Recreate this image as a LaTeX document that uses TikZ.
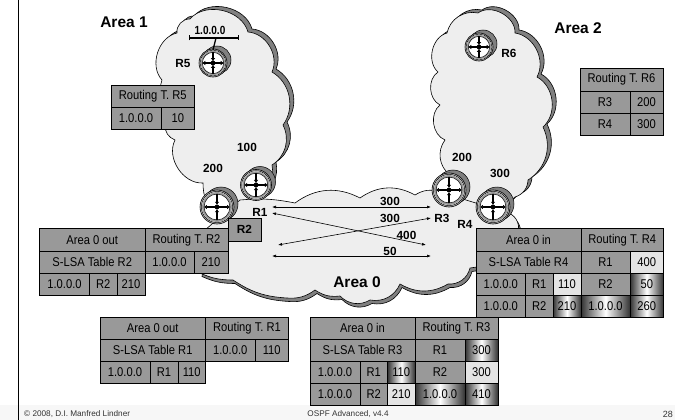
\documentclass[tikz,border=0pt]{standalone}
\usepackage{fontspec}
\setmainfont{Liberation Sans}
\newfontfamily\tblfont[FakeStretch=0.88]{Liberation Sans}
\usetikzlibrary{arrows.meta,shadings}
\definecolor{cellgray}{HTML}{999999}
\definecolor{cloudfill}{HTML}{EEEEEE}
\definecolor{cloudshade}{HTML}{808080}
\definecolor{cellpale}{HTML}{E4E4E4}
\tikzset{
  cellbox/.style={draw=black,line width=0.9pt,fill=cellgray},
  pale/.style={fill=cellpale},
  glow/.style={left color=black!80,right color=black!80,middle color=white},
  celltxt/.style={font=\tblfont\fontsize{12.7}{14}\selectfont,inner sep=0pt,text=black},
  lbl/.style={font=\bfseries\fontsize{11.8}{13}\selectfont,inner sep=0pt},
  arealbl/.style={font=\bfseries\fontsize{15.5}{17}\selectfont,inner sep=0pt},
  foot/.style={font=\fontsize{8.2}{10}\selectfont,inner sep=0pt,text=black!80},
  link/.style={line width=0.6pt,{Latex[length=4pt,width=3pt]}-{Latex[length=4pt,width=3pt]}},
  cloudline/.style={draw=black,line width=0.6pt},
  spoke/.style={line width=1.6pt,-{Latex[length=3.2pt,width=4.6pt]}},
}
\newcommand{\tcell}[7][]{%
  \path[cellbox,#1] (#3,#4) rectangle (#5,#6);
  \node[celltxt,name=#2] at ({(#3+#5)/2},{(#4+#6)/2}) {#7};}
\newcommand{\routersym}[4]{%
  \begin{scope}[shift={(#2,#3)}]
    \path[fill=cloudshade,draw=black,line width=0.5pt] (4,-3) circle (#4);
    \path[fill=black!25,draw=black,line width=0.6pt] (0,0) circle (#4);
    \node[circle,draw=black,fill=white,line width=0.5pt,inner sep=0pt,minimum size={2*#4*0.92pt},name=#1] at (0,0) {};
    \path[fill=cellgray] (0,0) circle ({#4*0.88});
    \path[fill=white,draw=black,line width=0.5pt] (0,0) circle ({#4*0.76});
    \draw[spoke] (0,0) -- ({#4*0.78},0);
    \draw[spoke] (0,0) -- ({-#4*0.78},0);
    \draw[spoke] (0,{#4*0.78}) -- (0,{#4*0.12});
    \draw[spoke] (0,{-#4*0.78}) -- (0,{-#4*0.12});
    \fill[black] (0,0) circle (2.4);
  \end{scope}}
\def\cloudA{(177,33) to[bend left=50] (190,19) to[bend left=62] (248,32) to[bend left=55] (272,72)
  to[bend left=48] (283,125) to[bend left=42] (272,165) to[bend left=35] (256,200) to (215,215)
  to[bend left=20] (203,183) to[bend left=60] (175,140) to[bend left=35] (165,125)
  to[bend left=20] (162,80) to[bend left=60] cycle}
\def\cloudB{(447,33) to[bend left=45] (478,13) to[bend left=65] (515,33) to[bend left=55] (537,77)
  to[bend left=55] (543,127) to[bend left=42] (528,180) to[bend left=35] (515,197) to (490,220)
  to (450,205) to[bend left=45] (450,175) to[bend left=45] (445,140) to[bend left=60] (440,105)
  to[bend left=60] (438,72) to[bend left=62] cycle}
\def\cloudC{(240,200) to[bend left=8] (295,203) to[bend left=32] (360,198) to[bend left=32] (415,195)
  to[bend left=25] (440,192) to (505,212) to[bend left=50] (518,232) to (512,262) to (470,268)
  to[bend left=40] (448,284) to[bend left=30] (400,284) to[bend left=38] (370,300) to[bend left=38] (340,296)
  to[bend left=20] (315,290) to[bend left=20] (287,298) to[bend left=15] (233,280) to[bend left=12] (200,273) to (205,230) to cycle}
\begin{document}
\begin{tikzpicture}[x=1pt,y=-1pt]
\useasboundingbox (0,0) rectangle (675,420);
\fill[white] (0,0) rectangle (675,420);
\fill[black!3] (0,405) rectangle (675,420);
\draw[line width=1.3pt] (18.5,0) -- (18.5,420);
% clouds
\path[fill=cloudshade,cloudline,shift={(4,-3)}] \cloudA;
\path[fill=cloudfill,cloudline] \cloudA;
\path[fill=cloudshade,cloudline,shift={(4,-3)}] \cloudB;
\path[fill=cloudfill,cloudline] \cloudB;
\path[fill=cloudshade,cloudline,shift={(2,3.5)}] \cloudC;
\path[fill=cloudfill,cloudline] \cloudC;
% routers
\routersym{rfive}{213}{63}{14}
\routersym{rsix}{479}{47}{14}
\routersym{rone}{256}{185}{15.5}
\routersym{rtwo}{217}{207}{17}
\routersym{rthree}{449}{190}{17}
\routersym{rfour}{493}{207}{17}
% network
\coordinate (busl) at (188.5,38);
\coordinate (busr) at (239,38);
\coordinate (busm) at (216,38);
\draw[line width=1.1pt,{Bar[width=5pt,length=1pt]}-{Bar[width=5pt,length=1pt]}] (busl) -- (busr);
\draw[line width=1.3pt] (busm) -- (rfive.north);
\node[lbl,name=netlbl] at (210,30.5) {\scalebox{0.85}[1]{1.0.0.0}};
% arrows
\coordinate (aa) at (272,207); \coordinate (ab) at (431,207);
\coordinate (ba) at (272,213); \coordinate (bb) at (426,245);
\coordinate (ca) at (278,245); \coordinate (cb) at (431,218);
\coordinate (da) at (272,256); \coordinate (db) at (431,256);
\draw[link] (aa) -- (ab);
\draw[link] (ba) -- (bb);
\draw[link] (ca) -- (cb);
\draw[link] (da) -- (db);
% labels
\node[arealbl,name=aone] at (124,22) {Area 1};
\node[arealbl,name=atwo] at (578,28) {Area 2};
\node[arealbl,name=azero] at (357,282) {Area 0};
\node[lbl,name=lfive] at (183,63) {R5};
\node[lbl,name=lsix] at (509,53) {R6};
\node[lbl,name=lone] at (260,212) {R1};
\node[lbl,name=lthree] at (442,218.5) {R3};
\node[lbl,name=lfour] at (465,224) {R4};
\node[lbl,name=ca1] at (247,147) {100};
\node[lbl,name=ca2] at (213,168.5) {200};
\node[lbl,name=cb1] at (462,157.5) {200};
\node[lbl,name=cb2] at (500,173.5) {300};
\node[lbl,name=cc1] at (390,201.5) {300};
\node[lbl,name=cc2] at (390,218.5) {300};
\node[lbl,name=cc3] at (406.5,235) {400};
\node[lbl,name=cc4] at (390,251.5) {50};
% R2 box
\path[cellbox] (228,218) rectangle (261,241);
\node[lbl,name=rtwobox] at (244.5,229.5) {R2};
% table R5
\tcell{t5a}{111}{85}{194.5}{107}{Routing T. R5}
\tcell{t5b}{111}{107}{161}{129}{1.0.0.0}
\tcell{t5c}{161}{107}{194.5}{129}{10}
% table R6
\tcell{t6a}{580}{68}{663}{91}{Routing T. R6}
\tcell{t6b}{580}{91}{630}{113}{R3}
\tcell{t6c}{630}{91}{663}{113}{200}
\tcell{t6d}{580}{113}{630}{135}{R4}
\tcell{t6e}{630}{113}{663}{135}{300}
% table R2
\tcell{t2a}{39.5}{228.5}{145}{251}{Area 0 out}
\tcell{t2b}{145}{228.5}{228}{251}{Routing T. R2}
\tcell{t2c}{39.5}{251}{145}{273}{S-LSA Table R2}
\tcell{t2d}{145}{251}{194}{273}{1.0.0.0}
\tcell{t2e}{194}{251}{228}{273}{210}
\tcell{t2f}{39.5}{273}{89.5}{295}{1.0.0.0}
\tcell{t2g}{89.5}{273}{117}{295}{R2}
\tcell{t2h}{117}{273}{145}{295}{210}
% table R1
\tcell{t1a}{100}{317}{205.5}{339}{Area 0 out}
\tcell{t1b}{205.5}{317}{288.5}{339}{Routing T. R1}
\tcell{t1c}{100}{339}{205.5}{361}{S-LSA Table R1}
\tcell{t1d}{205.5}{339}{255}{361}{1.0.0.0}
\tcell{t1e}{255}{339}{288.5}{361}{110}
\tcell{t1f}{100}{361}{150}{383}{1.0.0.0}
\tcell{t1g}{150}{361}{178}{383}{R1}
\tcell{t1h}{178}{361}{205.5}{383}{110}
% table R3
\tcell{t3a}{310}{317}{415}{339}{Area 0 in}
\tcell{t3b}{415}{317}{498}{339}{Routing T. R3}
\tcell{t3c}{310}{339}{415}{361}{S-LSA Table R3}
\tcell{t3d}{415}{339}{465}{361}{R1}
\tcell[glow]{t3e}{465}{339}{498}{361}{300}
\tcell{t3f}{310}{361}{360}{383}{1.0.0.0}
\tcell{t3g}{360}{361}{387.5}{383}{R1}
\tcell[glow]{t3h}{387.5}{361}{415}{383}{110}
\tcell{t3i}{415}{361}{465}{383}{R2}
\tcell[pale]{t3j}{465}{361}{498}{383}{300}
\tcell{t3k}{310}{383}{360}{405}{1.0.0.0}
\tcell{t3l}{360}{383}{387.5}{405}{R2}
\tcell[pale]{t3m}{387.5}{383}{415}{405}{210}
\tcell[glow]{t3n}{415}{383}{465}{405}{1.0.0.0}
\tcell[glow]{t3o}{465}{383}{498}{405}{410}
% table R4
\tcell{t4a}{476}{228.5}{581}{251}{Area 0 in}
\tcell{t4b}{581}{228.5}{663.5}{251}{Routing T. R4}
\tcell{t4c}{476}{251}{581}{273}{S-LSA Table R4}
\tcell{t4d}{581}{251}{630}{273}{R1}
\tcell[pale]{t4e}{630}{251}{663.5}{273}{400}
\tcell{t4f}{476}{273}{525.5}{295}{1.0.0.0}
\tcell{t4g}{525.5}{273}{553}{295}{R1}
\tcell[pale]{t4h}{553}{273}{581}{295}{110}
\tcell{t4i}{581}{273}{630}{295}{R2}
\tcell[glow]{t4j}{630}{273}{663.5}{295}{50}
\tcell{t4k}{476}{295}{525.5}{317}{1.0.0.0}
\tcell{t4l}{525.5}{295}{553}{317}{R2}
\tcell[glow]{t4m}{553}{295}{581}{317}{210}
\tcell[glow]{t4n}{581}{295}{630}{317}{1.0.0.0}
\tcell[glow]{t4o}{630}{295}{663.5}{317}{260}
% footer
\node[foot,anchor=west,name=fa] at (24,414) {© 2008, D.I. Manfred Lindner};
\node[foot,name=fb] at (348,414) {OSPF Advanced, v4.4};
\node[foot,anchor=east,name=fc,font=\fontsize{9}{10}\selectfont] at (673,414.5) {28};
\end{tikzpicture}
\end{document}
